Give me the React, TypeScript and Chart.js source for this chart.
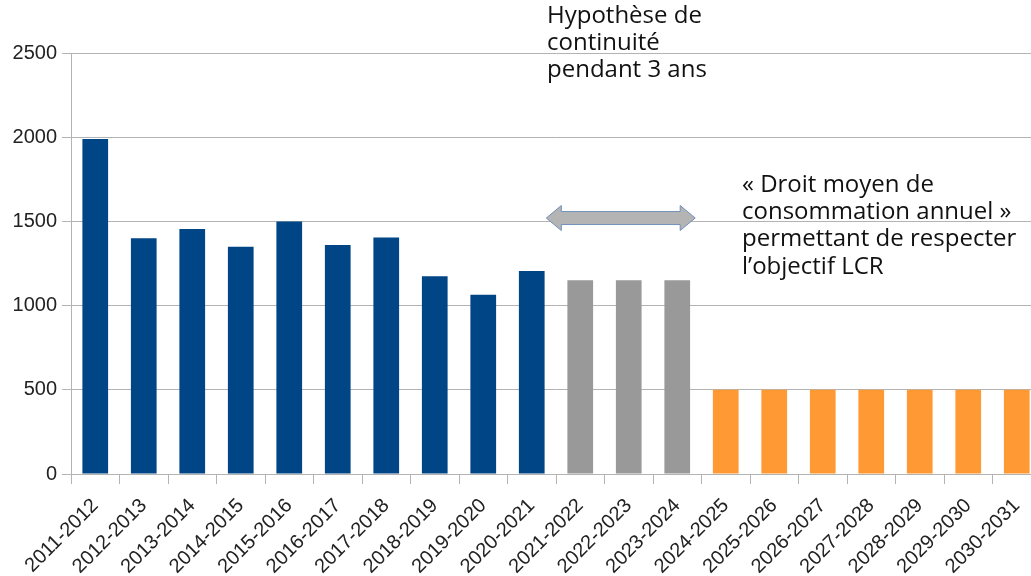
import React, { useEffect, useRef } from "react";
import { Chart, registerables } from "chart.js";

Chart.register(...registerables);

const categories = [
  "2011-2012", "2012-2013", "2013-2014", "2014-2015", "2015-2016",
  "2016-2017", "2017-2018", "2018-2019", "2019-2020", "2020-2021",
  "2021-2022", "2022-2023", "2023-2024", "2024-2025", "2025-2026",
  "2026-2027", "2027-2028", "2028-2029", "2029-2030", "2030-2031",
];
const historique = [1990, 1400, 1455, 1350, 1500, 1360, 1405, 1175, 1065, 1205];
const hypothese = [1150, 1150, 1150];
const objectif = [500, 500, 500, 500, 500, 500, 500];
const yTicks = [0, 500, 1000, 1500, 2000, 2500];

const texteHypothese = ["Hypothèse de", "continuité", "pendant 3 ans"];
const texteObjectif = [
  "« Droit moyen de",
  "consommation annuel »",
  "permettant de respecter",
  "l’objectif LCR",
];

const pad = (arr: number[], before: number, total: number) => {
  const out: (number | null)[] = [];
  for (let i = 0; i < total; i++) {
    const j = i - before;
    out.push(j >= 0 && j < arr.length ? arr[j] : null);
  }
  return out;
};

const annotations = {
  id: "annotations",
  afterDraw(chart: any) {
    const { ctx, scales } = chart;
    const x = scales.x;
    const y = scales.y;
    const w = x.getPixelForValue(1) - x.getPixelForValue(0);
    const start = historique.length;
    const end = historique.length + hypothese.length - 1;
    const left = x.getPixelForValue(start) - 0.7 * w;
    const right = x.getPixelForValue(end) + 0.37 * w;
    const cy = y.getPixelForValue(1520);
    const hh = 12.5;
    const sh = 6.5;
    const hl = 15;
    ctx.save();
    ctx.beginPath();
    ctx.moveTo(left, cy);
    ctx.lineTo(left + hl, cy - hh);
    ctx.lineTo(left + hl, cy - sh);
    ctx.lineTo(right - hl, cy - sh);
    ctx.lineTo(right - hl, cy - hh);
    ctx.lineTo(right, cy);
    ctx.lineTo(right - hl, cy + hh);
    ctx.lineTo(right - hl, cy + sh);
    ctx.lineTo(left + hl, cy + sh);
    ctx.lineTo(left + hl, cy + hh);
    ctx.closePath();
    ctx.fillStyle = "#b4b4b4";
    ctx.fill();
    ctx.lineWidth = 1;
    ctx.strokeStyle = "#7090bb";
    ctx.stroke();

    ctx.fillStyle = "#111111";
    ctx.font = "24px 'Open Sans'";
    ctx.textAlign = "left";
    ctx.textBaseline = "alphabetic";
    texteHypothese.forEach((t, i) => ctx.fillText(t, 547, 23 + i * 27));
    texteObjectif.forEach((t, i) => ctx.fillText(t, 742, 192 + i * 27.2));
    ctx.restore();
  },
};

export default function App() {
  const ref = useRef<HTMLCanvasElement | null>(null);
  useEffect(() => {
    document.body.style.overflow = "hidden";
    const n = categories.length;
    const chart = new Chart(ref.current as HTMLCanvasElement, {
      type: "bar",
      data: {
        labels: categories,
        datasets: [
          {
            label: "Historique",
            data: pad(historique, 0, n),
            backgroundColor: "#004586",
          },
          {
            label: "Hypothèse",
            data: pad(hypothese, historique.length, n),
            backgroundColor: "#999999",
          },
          {
            label: "Objectif",
            data: pad(objectif, historique.length + hypothese.length, n),
            backgroundColor: "#ff9933",
          },
        ],
      },
      options: {
        responsive: false,
        animation: false,
        layout: { padding: { top: 53, right: 0, left: 0, bottom: 0 } },
        datasets: {
          bar: {
            grouped: false,
            categoryPercentage: 1,
            barPercentage: 0.53,
          } as any,
        },
        plugins: {
          legend: { display: false },
          tooltip: { enabled: false },
        },
        scales: {
          x: {
            offset: true,
            grid: {
              display: true,
              offset: true,
              drawOnChartArea: false,
              drawTicks: true,
              tickLength: 10,
              color: "#b3b3b3",
            },
            border: { color: "#b3b3b3" },
            ticks: {
              maxRotation: 45,
              minRotation: 45,
              autoSkip: false,
              padding: 10,
              color: "#222222",
              font: { family: "'Liberation Sans', Arial, sans-serif", size: 20 },
            },
            afterFit(scale: any) {
              scale.height = 102;
              scale.paddingLeft = 0;
              scale.paddingRight = 0;
            },
          },
          y: {
            min: 0,
            max: 2500,
            afterBuildTicks(scale: any) {
              scale.ticks = yTicks.map((v) => ({ value: v }));
            },
            grid: {
              color: "#b3b3b3",
              tickLength: 9,
            },
            border: { color: "#b3b3b3" },
            ticks: {
              padding: 5,
              color: "#222222",
              font: { family: "'Liberation Sans', Arial, sans-serif", size: 20 },
              callback: (v: any) => String(v),
            },
            afterFit(scale: any) {
              scale.width = 71;
            },
          },
        },
      },
      plugins: [annotations],
    });
    return () => chart.destroy();
  }, []);
  return (
    <div style={{ position: "fixed", left: 0, top: 0, width: 1041, height: 576 }}>
      <canvas ref={ref} width={1041} height={576} />
    </div>
  );
}
